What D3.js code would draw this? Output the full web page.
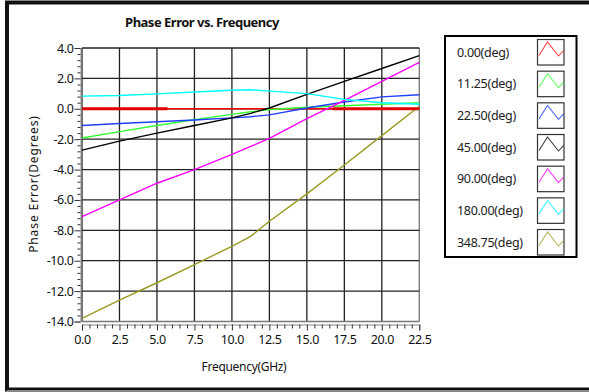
<!DOCTYPE html>
<html><head><meta charset="utf-8">
<script src="https://cdn.jsdelivr.net/npm/d3@7"></script>
<style>
html,body{margin:0;padding:0;background:#fff;}
svg{display:block;}
text{font-family:"Noto Sans","Open Sans",sans-serif;}
</style></head>
<body>
<svg id="c" width="589" height="392"></svg>
<script>
const freq = [0, 2.5, 5, 7.5, 10, 11.25, 12.5, 15, 17.5, 20, 22.5];
const s000 = [0, 0, 0, 0, 0, 0, 0, 0, 0, 0, 0];
const s1125 = [-1.92, -1.5, -1.1, -0.72, -0.37, -0.2, -0.05, 0.1, 0.2, 0.3, 0.4];
const s2250 = [-1.1, -0.97, -0.85, -0.74, -0.6, -0.52, -0.4, 0.05, 0.45, 0.78, 0.92];
const s4500 = [-2.72, -2.13, -1.6, -1.1, -0.6, -0.3, 0.05, 0.95, 1.8, 2.65, 3.5];
const s9000 = [-7.1, -6.0, -4.9, -4.0, -3.0, -2.48, -1.95, -0.65, 0.55, 1.8, 3.05];
const s18000 = [0.83, 0.87, 0.98, 1.1, 1.22, 1.25, 1.16, 1.0, 0.62, 0.4, 0.3];
const s34875 = [-13.8, -12.6, -11.45, -10.25, -9.05, -8.4, -7.4, -5.6, -3.7, -1.77, 0.17];
const seriesNames = ["0.00(deg)", "11.25(deg)", "22.50(deg)", "45.00(deg)", "90.00(deg)", "180.00(deg)", "348.75(deg)"];
const xTicks = [0, 2.5, 5, 7.5, 10, 12.5, 15, 17.5, 20, 22.5];
const yTicks = [4, 2, 0, -2, -4, -6, -8, -10, -12, -14];

const colors = ["#ff0000", "#33ff33", "#1f3fff", "#000000", "#ff00ff", "#00ffff", "#999922"];
const allSeries = [s000, s1125, s2250, s4500, s9000, s18000, s34875];

const svg = d3.select("#c");
// outer frame
svg.append("rect").attr("x", 7).attr("y", 2.5).attr("width", 600).attr("height", 387)
  .attr("fill", "none").attr("stroke", "#111").attr("stroke-width", 4);
svg.append("line").attr("x1", 7).attr("x2", 589).attr("y1", 390.5).attr("y2", 390.5).attr("stroke", "#888").attr("stroke-width", 1);

const x = d3.scaleLinear().domain([0, 22.5]).range([82, 419.3]);
const y = d3.scaleLinear().domain([-14, 4]).range([321.5, 48]);

// grid
const g = svg.append("g");
g.selectAll("line.v").data(xTicks).join("line")
  .attr("x1", d => x(d)).attr("x2", d => x(d)).attr("y1", y(4)).attr("y2", y(-14))
  .attr("stroke", d => d === 22.5 ? "#777" : "#222").attr("stroke-width", 1.3);
g.selectAll("line.h").data(yTicks).join("line")
  .attr("x1", x(0)).attr("x2", x(22.5)).attr("y1", d => y(d)).attr("y2", d => y(d))
  .attr("stroke", d => d === -14 ? "#777" : "#222").attr("stroke-width", 1.3);

// axes
const fmt = d => d.toFixed(1);
svg.append("g").attr("transform", "translate(80.5,0)")
  .call(d3.axisLeft(y).tickValues(yTicks).tickFormat(fmt).tickSize(6).tickPadding(1));
const yMinor = d3.range(-14, 4.001, 0.4).filter(v => Math.abs(v / 2 - Math.round(v / 2)) > 0.01);
svg.append("g").attr("transform", "translate(80.5,0)")
  .call(d3.axisLeft(y).tickValues(yMinor).tickFormat("").tickSize(3))
  .call(a => a.select(".domain").remove());
svg.append("g").attr("transform", "translate(0,324.5)")
  .call(d3.axisBottom(x).tickValues(xTicks).tickFormat(fmt).tickSize(6).tickPadding(5));
const xMinor = d3.range(0, 22.5001, 0.5).filter(v => Math.abs(v / 2.5 - Math.round(v / 2.5)) > 0.01);
svg.append("g").attr("transform", "translate(0,324.5)")
  .call(d3.axisBottom(x).tickValues(xMinor).tickFormat("").tickSize(4))
  .call(a => a.select(".domain").remove());
svg.selectAll(".domain").attr("stroke", "#888");
svg.selectAll(".tick line").attr("stroke", "#333");
svg.selectAll(".tick text").attr("font-size", 12.5).attr("fill", "#111").attr("letter-spacing", -0.4)
  .attr("font-family", "'Noto Sans', sans-serif");

// lines
const line = d3.line().x((d, i) => x(freq[i])).y(d => y(d));
allSeries.forEach((s, k) => {
  svg.append("path").datum(s).attr("d", line).attr("fill", "none")
    .attr("stroke", colors[k]).attr("stroke-width", k === 0 ? 1.5 : 1.4);
});
// bold parts of the 0.00 trace
const redBold = [[0, 5.7], [16.7, 22.5]];
redBold.forEach(r => {
  svg.append("line").attr("x1", x(r[0])).attr("x2", x(r[1])).attr("y1", y(0)).attr("y2", y(0))
    .attr("stroke", "#e00000").attr("stroke-width", 3);
});

// title & labels
svg.append("text").attr("x", 202).attr("y", 27).attr("text-anchor", "middle")
  .attr("font-size", 13).attr("font-weight", "bold").attr("fill", "#111")
  .attr("font-family", "'Open Sans', sans-serif").attr("letter-spacing", -0.5)
  .text("Phase Error vs. Frequency");
svg.append("text").attr("transform", "translate(38,184) rotate(-90)").attr("text-anchor", "middle")
  .attr("font-size", 12).attr("letter-spacing", 0.9).attr("fill", "#111")
  .text("Phase Error(Degrees)");
svg.append("text").attr("x", 244).attr("y", 371).attr("text-anchor", "middle")
  .attr("font-size", 12).attr("fill", "#111").attr("letter-spacing", -0.3)
  .text("Frequency(GHz)");

// legend
const lg = svg.append("g");
lg.append("rect").attr("x", 445).attr("y", 36).attr("width", 131.5).attr("height", 221)
  .attr("fill", "#fff").attr("stroke", "#000").attr("stroke-width", 2);
seriesNames.forEach((n, k) => {
  const cy = 52 + k * 31.67;
  lg.append("text").attr("x", 457).attr("y", cy + 4.5).attr("font-size", 12.5)
    .attr("fill", "#222").attr("letter-spacing", -0.3).text(n);
  lg.append("rect").attr("x", 537.5).attr("y", cy - 12.5).attr("width", 26.5).attr("height", 25.5)
    .attr("fill", "#fff").attr("stroke", "#333").attr("stroke-width", 1.2);
  const ox = 537.5, oy = cy - 12.5;
  lg.append("path").attr("d", `M${ox + 1.5},${oy + 16} L${ox + 10},${oy + 2.5} L${ox + 21},${oy + 16.5} L${ox + 26},${oy + 11}`)
    .attr("fill", "none").attr("stroke", colors[k]).attr("stroke-opacity", 0.75).attr("stroke-width", 1.1);
});
</script>
</body></html>
